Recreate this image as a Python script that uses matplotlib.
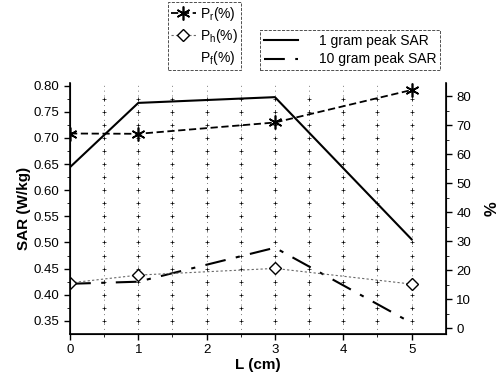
import numpy as np
import matplotlib
matplotlib.use("Agg")
import matplotlib.pyplot as plt
from matplotlib.lines import Line2D

plt.rcParams['font.family'] = ['Liberation Sans', 'DejaVu Sans']
plt.rcParams['mathtext.default'] = 'regular'

# Datos
L_cm = [0, 1, 3, 5]
sar_1g = [0.644, 0.767, 0.778, 0.506]
sar_10g = [0.421, 0.425, 0.490, 0.346]
p_r = [67.1, 67.0, 70.9, 82.1]
p_h = [15.6, 18.3, 20.6, 15.2]

fig = plt.figure(figsize=(5.02, 3.74), dpi=100)
ax = fig.add_axes([0.1394, 0.107, 0.7486, 0.671])
ax2 = ax.twinx()

# rejilla de cruces
gx = np.arange(0.5, 5.5, 0.5)
gy = np.arange(0.35, 0.80, 0.025)
GX, GY = np.meshgrid(gx, gy)
ax.scatter(GX.ravel(), GY.ravel(), marker='+', s=10, color='black', linewidths=0.5, zorder=1)
for x in gx:
    ax.axvline(x, color='black', lw=0.5, ls=(0, (1, 6)), zorder=1)

ax.plot(L_cm, sar_1g, color='black', lw=1.5, label='1 gram peak SAR', zorder=3)
ax.plot(L_cm, sar_10g, color='black', lw=1.5, dashes=(10, 5, 2, 5), label='10 gram peak SAR', zorder=3)

ax2.plot(L_cm, p_r, color='black', lw=1.3, ls=(0, (4, 2)), marker=(6, 2, 0), ms=10,
         markeredgewidth=1.2, label='P$_r$(%)')
ax2.plot(L_cm, p_h, color='dimgray', lw=0.8, ls=(0, (2, 2)), marker='D', ms=6,
         mfc='white', mec='black', label='P$_h$(%)')

ax.set_xlim(0, 5.5)
ax.set_ylim(0.325, 0.805)
ax2.set_ylim(-2, 84.5)
ax.set_xticks([0, 1, 2, 3, 4, 5])
ax.set_xticks(np.arange(0, 5.5, 0.5), minor=True)
ax.set_yticks(np.arange(0.35, 0.81, 0.05))
ax.set_yticks(np.arange(0.35, 0.81, 0.025), minor=True)
ax.set_yticklabels(['%.2f' % v for v in np.arange(0.35, 0.81, 0.05)])
ax2.set_yticks(np.arange(0, 81, 10))
ax2.set_yticks(np.arange(0, 81, 5), minor=True)

for a in (ax, ax2):
    a.spines['top'].set_visible(False)
    a.tick_params(labelsize=9.5, length=4, width=1)
    a.tick_params(which='minor', length=2)
ax.spines['left'].set_linewidth(1.2)
ax.spines['bottom'].set_linewidth(1.2)
ax2.spines['right'].set_linewidth(1.2)

ax.set_xlabel('L (cm)', fontsize=11, fontweight='bold', labelpad=1)
ax.set_ylabel('SAR (W/kg)', fontsize=11, fontweight='bold', labelpad=2)
ax2.set_ylabel('%', fontsize=12, fontweight='bold', labelpad=10)

# leyendas
h_r, h_h = ax2.get_lines()
h_f = Line2D([], [], linestyle='none', label='P$_f$(%)')
leg1 = fig.legend(handles=[h_r, h_h, h_f], loc='lower left', bbox_to_anchor=(0.335, 0.813),
                  fontsize=10, frameon=True, handlelength=1.8, handletextpad=0.3,
                  borderpad=0.2, labelspacing=0.3, fancybox=False, borderaxespad=0)
leg1.get_frame().set_edgecolor('black')
leg1.get_frame().set_linestyle('--')
leg1.get_frame().set_linewidth(0.6)
h1, h10 = ax.get_lines()[-2:]
leg2 = fig.legend(handles=[h1, h10], loc='lower left', bbox_to_anchor=(0.518, 0.813),
                  fontsize=10, frameon=True, handlelength=2.5, handletextpad=1.5,
                  borderpad=0.25, labelspacing=0.35, fancybox=False, borderaxespad=0)
leg2.get_frame().set_edgecolor('black')
leg2.get_frame().set_linestyle('--')
leg2.get_frame().set_linewidth(0.6)

fig.savefig('out.png', dpi=100)
